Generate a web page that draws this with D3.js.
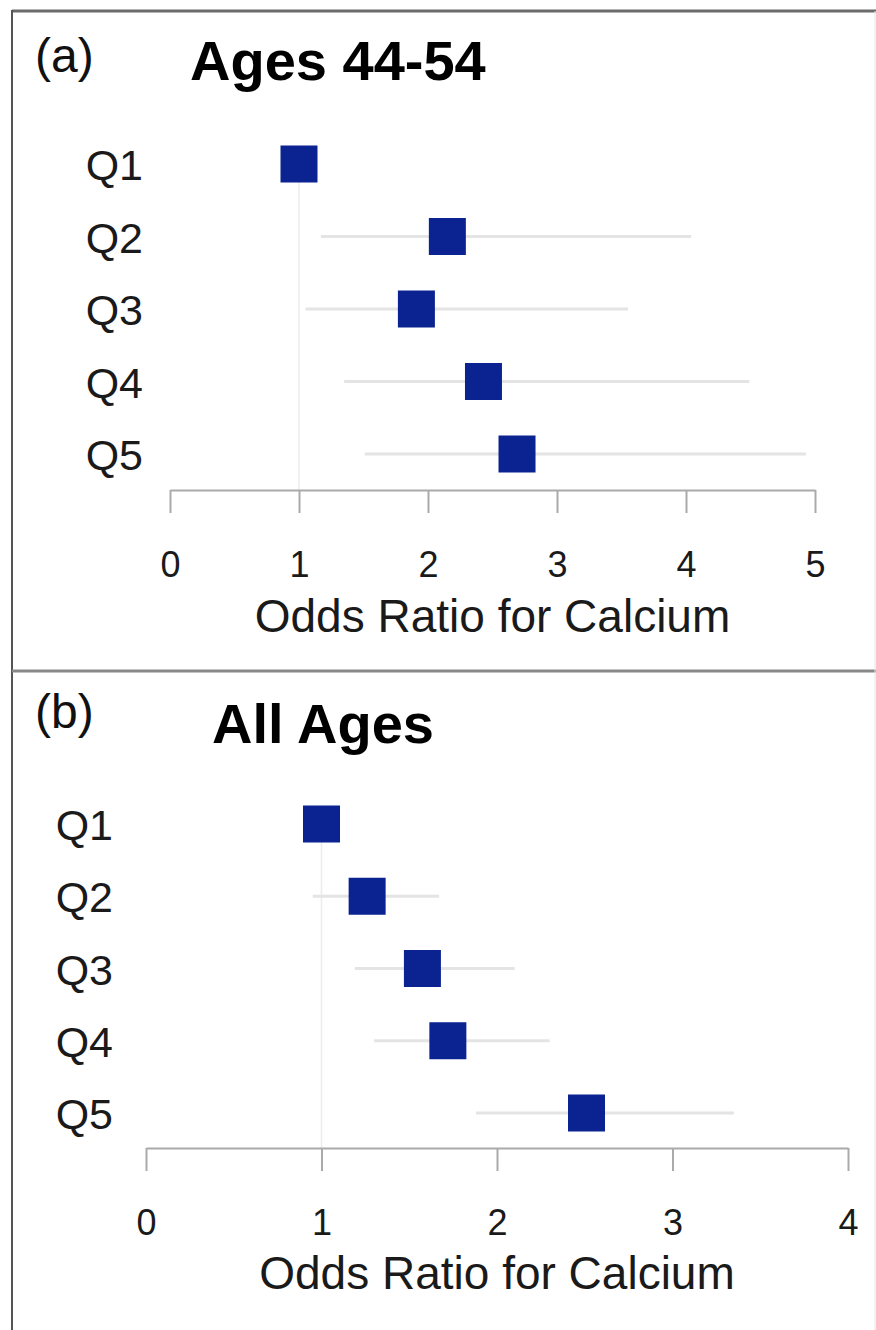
<!DOCTYPE html>
<html>
<head>
<meta charset="utf-8">
<script src="https://cdn.jsdelivr.net/npm/d3@7"></script>
<style>
  body { margin: 0; background: #fff; }
  svg { display: block; font-family: "Liberation Sans", Arial, sans-serif; }
</style>
</head>
<body>
<div id="chart"></div>
<script>
// quintile labels
var quintiles = ["Q1", "Q2", "Q3", "Q4", "Q5"];

// (a) ages 44-54
var orA   = [1.00, 2.15, 1.91, 2.43, 2.69];
var lowA  = [1.00, 1.17, 1.05, 1.35, 1.51];
var highA = [1.00, 4.04, 3.55, 4.49, 4.93];
var ticksA = [0, 1, 2, 3, 4, 5];

// (b) all ages
var orB   = [1.00, 1.26, 1.575, 1.72, 2.51];
var lowB  = [1.00, 0.95, 1.19, 1.30, 1.88];
var highB = [1.00, 1.67, 2.10, 2.30, 3.35];
var ticksB = [0, 1, 2, 3, 4];

var width = 876, height = 1330;
var boxSize = 37;

var svg = d3.select("#chart").append("svg")
    .attr("width", width)
    .attr("height", height);

// frame lines
svg.append("line").attr("x1", 12).attr("x2", width).attr("y1", 11).attr("y2", 11)
    .attr("stroke", "#6a6a6a").attr("stroke-width", 3);
svg.append("line").attr("x1", 12).attr("x2", 12).attr("y1", 10).attr("y2", height)
    .attr("stroke", "#555").attr("stroke-width", 2);
svg.append("line").attr("x1", 12).attr("x2", width).attr("y1", 671).attr("y2", 671)
    .attr("stroke", "#888").attr("stroke-width", 3);
svg.append("line").attr("x1", 875).attr("x2", 875).attr("y1", 11).attr("y2", height)
    .attr("stroke", "#e6e6e6").attr("stroke-width", 1);

/* draw one forest panel
 * p: positions for this panel, data from the arrays above
 */
var drawPanel = function(p, or, low, high, ticks) {

    var x = d3.scaleLinear().domain([ticks[0], ticks[ticks.length - 1]]).range(p.xRange);
    var y = d3.scalePoint().domain(quintiles).range(p.yRange);

    var rows = quintiles.map(function(q, i) {
        return {q: q, or: or[i], low: low[i], high: high[i]};
    });

    var g = svg.append("g");

    // panel letter + title
    g.append("text").attr("x", 35).attr("y", p.letterY)
        .style("font-size", "48px").attr("fill", "#111").text(p.letter);
    g.append("text").attr("x", p.titleX).attr("y", p.titleY)
        .style("font-size", "56px").style("font-weight", "bold")
        .attr("fill", "#000").text(p.title);

    // reference line at OR = 1
    g.append("line")
        .attr("x1", x(1)).attr("x2", x(1))
        .attr("y1", y("Q1")).attr("y2", p.axisY)
        .attr("stroke", "#ececec").attr("stroke-width", 1.5);

    // confidence intervals
    g.selectAll(".ci").data(rows).enter().append("line")
        .attr("class", "ci")
        .attr("x1", function(d) { return x(d.low); })
        .attr("x2", function(d) { return x(d.high); })
        .attr("y1", function(d) { return y(d.q); })
        .attr("y2", function(d) { return y(d.q); })
        .attr("stroke", "#e4e4e4").attr("stroke-width", 3);

    // point estimates
    g.selectAll(".box").data(rows).enter().append("rect")
        .attr("class", "box")
        .attr("x", function(d) { return x(d.or) - boxSize / 2; })
        .attr("y", function(d) { return y(d.q) - boxSize / 2; })
        .attr("width", boxSize).attr("height", boxSize)
        .attr("fill", "#0b2391");

    // quintile labels
    g.selectAll(".qlab").data(rows).enter().append("text")
        .attr("class", "qlab")
        .attr("x", p.labelX)
        .attr("y", function(d) { return y(d.q) + 16; })
        .attr("text-anchor", "end")
        .style("font-size", "43px").attr("fill", "#1a1a1a")
        .text(function(d) { return d.q; });

    // x axis
    var axis = d3.axisBottom(x).tickValues(ticks).tickFormat(d3.format("d"))
        .tickSize(23).tickSizeOuter(0).tickPadding(38);
    var ax = g.append("g").attr("transform", "translate(0," + p.axisY + ")").call(axis);
    ax.select(".domain").attr("stroke", "#aaa").attr("stroke-width", 2);
    ax.selectAll(".tick line").attr("stroke", "#aaa").attr("stroke-width", 2);
    ax.selectAll(".tick text")
        .style("font-size", "36px")
        .style("font-family", "'Liberation Sans', Arial, sans-serif")
        .attr("fill", "#1a1a1a");

    g.append("text")
        .attr("x", (p.xRange[0] + p.xRange[1]) / 2)
        .attr("y", p.axisLabelY)
        .attr("text-anchor", "middle")
        .style("font-size", "46px").attr("fill", "#1a1a1a")
        .text("Odds Ratio for Calcium");
}

drawPanel({letter: "(a)", letterY: 72, title: "Ages 44-54", titleX: 190, titleY: 80,
           xRange: [170, 815], yRange: [164, 454], labelX: 143,
           axisY: 490, axisLabelY: 632}, orA, lowA, highA, ticksA);

drawPanel({letter: "(b)", letterY: 728, title: "All Ages", titleX: 212, titleY: 743,
           xRange: [146, 848], yRange: [824, 1113], labelX: 113,
           axisY: 1148, axisLabelY: 1289}, orB, lowB, highB, ticksB);
</script>
</body>
</html>
